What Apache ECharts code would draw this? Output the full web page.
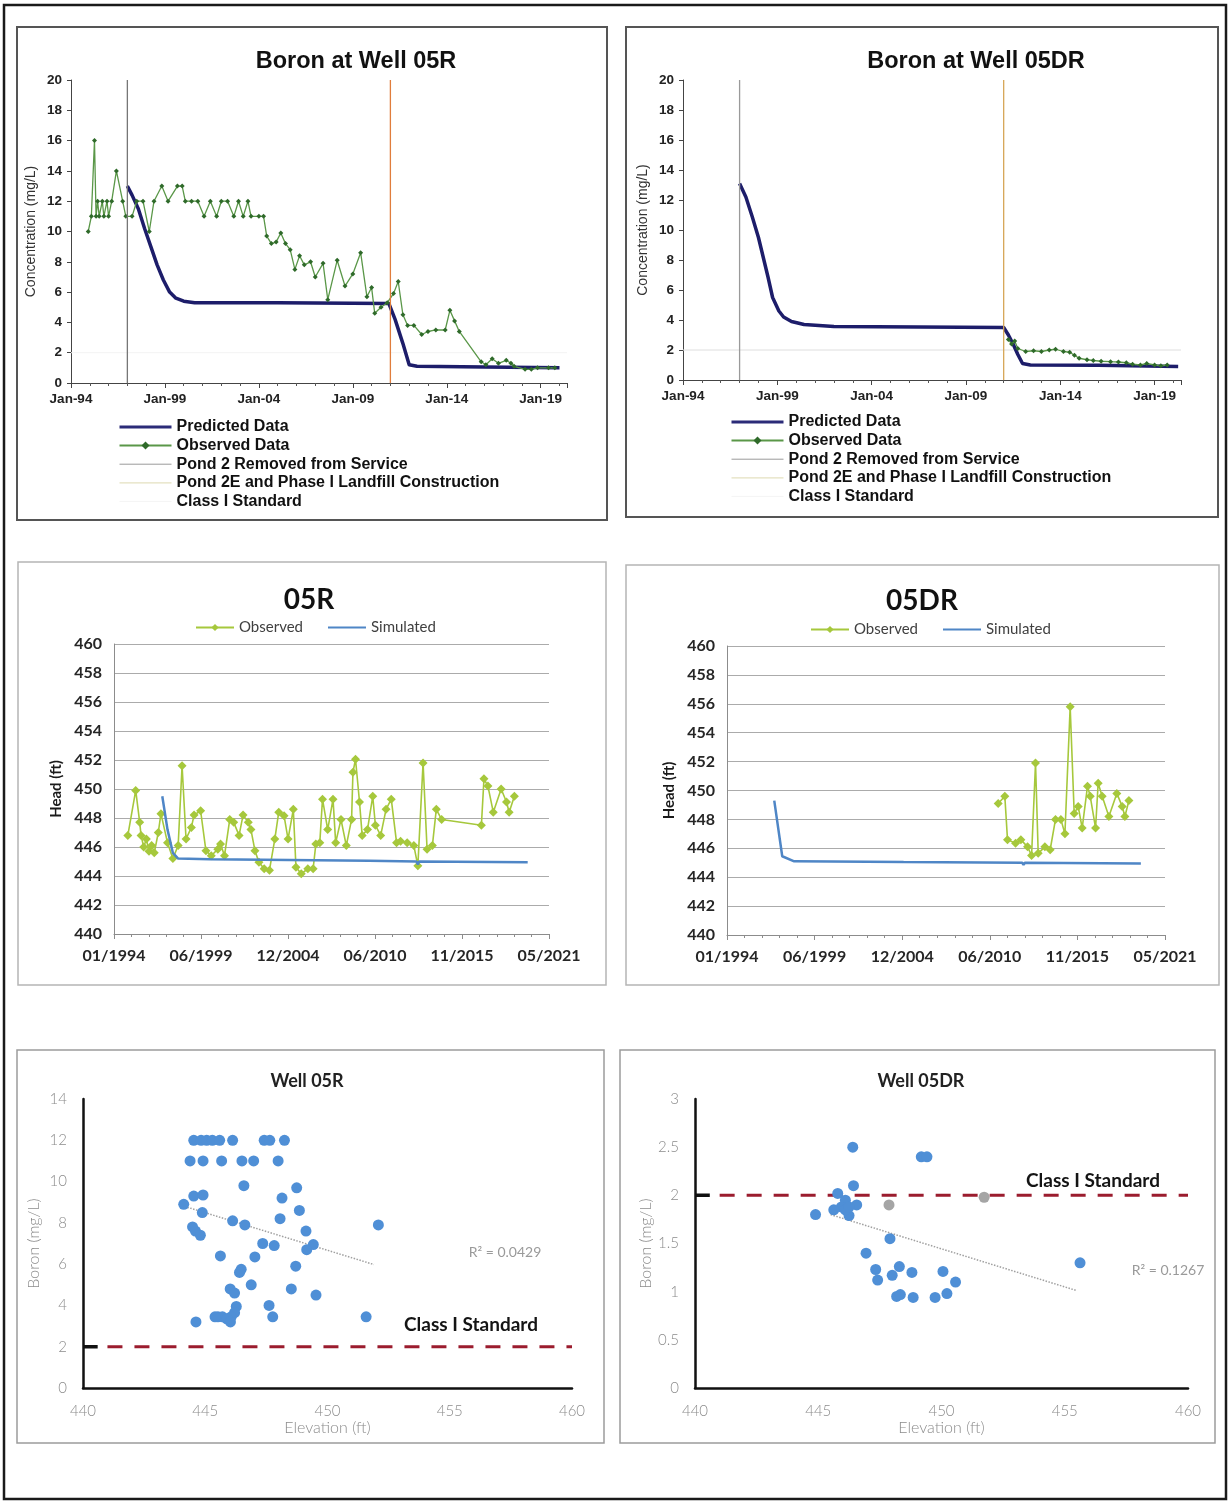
<!DOCTYPE html>
<html>
<head>
<meta charset="utf-8">
<script src="https://cdn.jsdelivr.net/npm/echarts@6/dist/echarts.min.js"></script>
<style>
  html, body { margin: 0; padding: 0; background: #fff; }
  #c { width: 1229px; height: 1503px; }
</style>
</head>
<body>
<div id="c"></div>
<script>
// ---------- Boron concentration over time (date, mg/L) ----------
const boron05R_predicted = [
  ['1997-01', 13.0], ['1997-04', 12.4], ['1997-08', 11.5], ['1997-12', 10.2], ['1998-04', 9.0],
  ['1998-08', 7.8], ['1998-12', 6.8], ['1999-04', 6.0], ['1999-08', 5.6], ['2000-01', 5.4],
  ['2000-08', 5.3], ['2005-01', 5.3], ['2010-12', 5.25], ['2011-01', 5.2], ['2011-04', 4.2],
  ['2011-09', 2.6], ['2012-01', 1.2], ['2012-06', 1.1], ['2016-01', 1.05], ['2020-01', 1.0]
];
const boron05R_observed = [
  ['1994-12', 10], ['1995-02', 11], ['1995-04', 16], ['1995-05', 11], ['1995-06', 12], ['1995-07', 11],
  ['1995-09', 12], ['1995-10', 11], ['1995-12', 12], ['1996-01', 11], ['1996-03', 12], ['1996-06', 14],
  ['1996-10', 12], ['1996-12', 11], ['1997-04', 11], ['1997-07', 12], ['1997-11', 12], ['1998-03', 10],
  ['1998-06', 12], ['1998-11', 13], ['1999-03', 12], ['1999-09', 13], ['1999-12', 13], ['2000-02', 12],
  ['2000-06', 12], ['2000-10', 12], ['2001-02', 11], ['2001-06', 12], ['2001-10', 11], ['2002-01', 12],
  ['2002-05', 12], ['2002-09', 11], ['2002-12', 12], ['2003-03', 11], ['2003-06', 12], ['2003-08', 11],
  ['2004-01', 11], ['2004-04', 11], ['2004-06', 9.7], ['2004-09', 9.2], ['2004-12', 9.3], ['2005-03', 9.9],
  ['2005-06', 9.2], ['2005-09', 8.8], ['2005-12', 7.5], ['2006-03', 8.4], ['2006-06', 7.8], ['2006-10', 8.0],
  ['2007-01', 7.0], ['2007-06', 7.9], ['2007-09', 5.5], ['2008-03', 8.1], ['2008-08', 6.4], ['2009-01', 7.2],
  ['2009-06', 8.6], ['2009-10', 5.7], ['2010-01', 6.3], ['2010-03', 4.6], ['2010-07', 5.0], ['2010-11', 5.3],
  ['2011-03', 5.9], ['2011-06', 6.7], ['2011-09', 4.5], ['2011-12', 3.8], ['2012-04', 3.8], ['2012-09', 3.2],
  ['2013-01', 3.4], ['2013-06', 3.5], ['2013-12', 3.5], ['2014-03', 4.8], ['2014-06', 4.1], ['2014-09', 3.4],
  ['2015-11', 1.4], ['2016-02', 1.2], ['2016-06', 1.6], ['2016-10', 1.3], ['2017-03', 1.5], ['2017-06', 1.3],
  ['2017-08', 1.1], ['2018-03', 0.9], ['2018-07', 0.9], ['2018-11', 1.0], ['2019-06', 1.0], ['2019-10', 1.0]
];
const boron05DR_predicted = [
  ['1997-01', 13.1], ['1997-05', 12.2], ['1997-09', 10.9], ['1998-01', 9.5], ['1998-04', 8.2],
  ['1998-07', 6.9], ['1998-10', 5.5], ['1999-02', 4.6], ['1999-05', 4.2], ['1999-10', 3.9],
  ['2000-06', 3.7], ['2002-01', 3.56], ['2011-01', 3.5], ['2011-04', 3.0], ['2011-07', 2.4],
  ['2011-10', 1.7], ['2012-01', 1.1], ['2012-06', 1.0], ['2016-01', 0.98], ['2020-04', 0.9]
];
const boron05DR_observed = [
  ['2011-04', 2.7], ['2011-06', 2.4], ['2011-08', 2.6], ['2011-10', 2.1], ['2012-03', 1.9], ['2012-08', 1.95],
  ['2013-01', 1.9], ['2013-06', 2.0], ['2013-10', 2.05], ['2014-03', 1.9], ['2014-07', 1.85], ['2014-10', 1.65],
  ['2015-01', 1.45], ['2015-06', 1.35], ['2015-10', 1.3], ['2016-03', 1.25], ['2016-09', 1.22], ['2017-02', 1.2],
  ['2017-07', 1.15], ['2017-11', 1.05], ['2018-04', 1.0], ['2018-08', 1.1], ['2019-01', 1.0], ['2019-05', 0.95],
  ['2019-09', 1.0]
];
// site events and the standard
const pond2RemovedDate = '1997-01';
const pond2EConstructionDate = '2011-01';
const classIStandard = 2;

// ---------- Groundwater head over time (date, ft) ----------
const head05R_observed = [
  ['1994-11', 446.8], ['1995-05', 449.9], ['1995-08', 447.7], ['1995-09', 446.8], ['1995-11', 446.0],
  ['1996-01', 446.55], ['1996-03', 445.7], ['1996-05', 446.1], ['1996-07', 445.6], ['1996-10', 447.0],
  ['1996-12', 448.3], ['1997-05', 446.3], ['1997-09', 445.2], ['1998-01', 446.1], ['1998-04', 451.6],
  ['1998-07', 446.55], ['1998-11', 447.35], ['1999-01', 448.2], ['1999-06', 448.5], ['1999-10', 445.75],
  ['2000-02', 445.4], ['2000-07', 445.85], ['2000-09', 446.2], ['2000-12', 445.4], ['2001-04', 447.9],
  ['2001-07', 447.7], ['2001-11', 446.8], ['2002-02', 448.2], ['2002-06', 447.7], ['2002-08', 447.2],
  ['2002-11', 445.75], ['2003-02', 444.95], ['2003-06', 444.5], ['2003-10', 444.4], ['2004-02', 446.55],
  ['2004-05', 448.4], ['2004-09', 448.15], ['2004-12', 446.55], ['2005-04', 448.6], ['2005-06', 444.6],
  ['2005-10', 444.15], ['2006-03', 444.5], ['2006-07', 444.5], ['2006-09', 446.2], ['2006-12', 446.3],
  ['2007-02', 449.3], ['2007-06', 447.2], ['2007-10', 449.3], ['2007-12', 446.3], ['2008-04', 447.9],
  ['2008-08', 446.1], ['2008-12', 447.9], ['2009-01', 451.15], ['2009-03', 452.05], ['2009-06', 449.1],
  ['2009-08', 446.8], ['2009-12', 447.2], ['2010-04', 449.5], ['2010-06', 447.5], ['2010-10', 446.8],
  ['2011-02', 448.6], ['2011-06', 449.3], ['2011-10', 446.3], ['2012-01', 446.4], ['2012-06', 446.3],
  ['2012-11', 446.1], ['2013-02', 444.7], ['2013-06', 451.8], ['2013-09', 445.85], ['2014-01', 446.1],
  ['2014-04', 448.6], ['2014-08', 447.9], ['2017-02', 447.5], ['2017-04', 450.7], ['2017-07', 450.2],
  ['2017-11', 448.4], ['2018-05', 450.0], ['2018-09', 449.1], ['2018-11', 448.4], ['2019-03', 449.5]
];
const head05R_simulated = [
  ['1997-01', 449.5], ['1997-05', 447.2], ['1997-09', 445.6], ['1998-01', 445.2], ['2000-01', 445.15],
  ['2005-01', 445.1], ['2010-01', 445.05], ['2013-01', 445.0], ['2013-02', 444.8], ['2013-03', 445.0],
  ['2020-01', 444.95]
];
const head05DR_observed = [
  ['2010-12', 449.1], ['2011-05', 449.6], ['2011-07', 446.6], ['2012-01', 446.35], ['2012-05', 446.6],
  ['2012-10', 446.1], ['2013-01', 445.5], ['2013-04', 451.9], ['2013-06', 445.65], ['2013-11', 446.1],
  ['2014-03', 445.9], ['2014-07', 448.0], ['2014-11', 448.0], ['2015-02', 447.0], ['2015-06', 455.8],
  ['2015-09', 448.4], ['2015-12', 448.9], ['2016-03', 447.4], ['2016-07', 450.3], ['2016-09', 449.6],
  ['2017-01', 447.4], ['2017-03', 450.5], ['2017-06', 449.6], ['2017-11', 448.2], ['2018-05', 449.8],
  ['2018-09', 448.9], ['2018-11', 448.2], ['2019-02', 449.3]
];
const head05DR_simulated = [
  ['1996-12', 449.3], ['1997-06', 445.45], ['1998-03', 445.1], ['2005-01', 445.05], ['2012-06', 445.0],
  ['2012-07', 444.85], ['2012-08', 445.0], ['2019-11', 444.95]
];

// ---------- Boron versus groundwater elevation (ft, mg/L) ----------
const scatter05R = [
  [444.53, 12], [444.83, 12], [445.06, 12], [445.29, 12], [445.59, 12], [446.12, 12], [447.41, 12], [447.64, 12], [448.24, 12],
  [444.38, 11], [444.91, 11], [445.67, 11], [446.5, 11], [446.98, 11], [447.98, 11],
  [446.58, 9.8], [448.74, 9.7], [448.14, 9.2], [444.12, 8.9], [444.53, 9.3], [444.91, 9.35], [444.88, 8.5],
  [448.85, 8.6], [448.06, 8.2], [446.12, 8.1], [446.62, 7.9], [452.08, 7.9], [444.48, 7.8], [444.6, 7.6],
  [444.8, 7.4], [449.12, 7.6], [447.35, 7.0], [447.82, 6.9], [449.42, 6.95], [449.15, 6.7], [445.62, 6.4],
  [447.03, 6.35], [448.7, 5.9], [446.47, 5.75], [446.4, 5.6], [446.88, 5.0], [448.52, 4.8], [446.02, 4.8],
  [446.2, 4.6], [449.53, 4.5], [447.61, 4.0], [446.27, 3.95], [446.2, 3.65], [445.52, 3.45], [445.7, 3.45],
  [446.06, 3.45], [445.88, 3.35], [447.76, 3.45], [451.58, 3.45], [444.62, 3.2], [446.03, 3.2], [445.4, 3.45]
];
const trend05R = [[444.15, 8.8], [451.9, 5.98]];
const r2_05R = 0.0429;

const scatter05DR = [
  [446.4, 2.5], [449.18, 2.4], [449.41, 2.4], [446.43, 2.1], [445.79, 2.02], [446.1, 1.95], [446.56, 1.9],
  [445.94, 1.88], [445.63, 1.85], [446.25, 1.79], [444.89, 1.8], [446.1, 1.85], [446.25, 1.88], [447.91, 1.55],
  [446.94, 1.4], [447.33, 1.23], [447.41, 1.12], [448.0, 1.17], [448.29, 1.26], [448.8, 1.2], [450.06, 1.21],
  [450.57, 1.1], [448.18, 0.95], [448.33, 0.97], [448.85, 0.94], [449.74, 0.94], [450.22, 0.98], [455.62, 1.3]
];
const scatter05DR_grey = [[447.87, 1.9], [451.73, 1.98]];
const trend05DR = [[445.5, 1.8], [455.5, 1.01]];
const r2_05DR = 0.1267;

// ---------- helpers ----------
const ARIAL = '"Liberation Sans", Arial, sans-serif';
const CAL = 'Lato, "Open Sans", sans-serif';
const toYears = d => { const [y, m] = d.split('-').map(Number); return (y - 1994) + (m - 1) / 12; };
const toDays = d => { const [y, m] = d.split('-').map(Number); return (Date.UTC(y, m - 1, 15) - Date.UTC(1994, 0, 1)) / 864e5; };
const yearPts = arr => arr.map(([d, v]) => [toYears(d), v]);
const dayPts = arr => arr.map(([d, v]) => [toDays(d), v]);
const janLabel = v => (Math.abs(v % 5) < 1e-6) ? 'Jan-' + String((1994 + v) % 100).padStart(2, '0') : '';
const mmyyyy = v => { const dt = new Date(Date.UTC(1994, 0, 1) + v * 864e5); return String(dt.getUTCMonth() + 1).padStart(2, '0') + '/' + dt.getUTCFullYear(); };
const YEAR_MAX = 26.4;

// axes for the concentration time-series panels
function concX(gi) {
  return {
    gridIndex: gi, type: 'value', min: 0, max: YEAR_MAX, interval: 5,
    axisLine: { show: true, lineStyle: { color: '#444', width: 1 } },
    axisTick: { show: true, length: 5, lineStyle: { color: '#444' } },
    minorTick: { show: true, splitNumber: 5, length: 3, lineStyle: { color: '#555' } },
    splitLine: { show: false },
    axisLabel: { formatter: janLabel, showMaxLabel: false, fontFamily: ARIAL, fontSize: 13.5, fontWeight: 'bold', color: '#222', margin: 9 }
  };
}
function concY(gi) {
  return {
    gridIndex: gi, type: 'value', min: 0, max: 20, interval: 2,
    axisLine: { show: true, lineStyle: { color: '#444', width: 1 } },
    axisTick: { show: true, length: 4, lineStyle: { color: '#444' } },
    splitLine: { show: false },
    axisLabel: { fontFamily: ARIAL, fontSize: 13.5, fontWeight: 'bold', color: '#222', margin: 9 },
    name: 'Concentration (mg/L)', nameLocation: 'middle', nameGap: 33,
    nameTextStyle: { fontFamily: ARIAL, fontSize: 14, color: '#333' }
  };
}
// axes for the head panels
function headX(gi) {
  return {
    gridIndex: gi, type: 'value', min: 0, max: 10000, interval: 2000,
    axisLine: { show: true, lineStyle: { color: '#8c8c8c', width: 1 } },
    axisTick: { show: true, length: 5, lineStyle: { color: '#8c8c8c' } },
    minorTick: { show: true, splitNumber: 5, length: 3, lineStyle: { color: '#8c8c8c' } },
    splitLine: { show: false },
    axisLabel: { formatter: mmyyyy, fontFamily: CAL, fontSize: 16, fontWeight: 'bold', color: '#262626', margin: 14 }
  };
}
function headY(gi) {
  return {
    gridIndex: gi, type: 'value', min: 440, max: 460, interval: 2,
    axisLine: { show: true, lineStyle: { color: '#8c8c8c', width: 1 } },
    axisTick: { show: false },
    splitLine: { show: true, lineStyle: { color: '#ababab', width: 1 } },
    axisLabel: { fontFamily: CAL, fontSize: 16, fontWeight: 'bold', color: '#262626', margin: 12 },
    name: 'Head (ft)', nameLocation: 'middle', nameGap: 50,
    nameTextStyle: { fontFamily: CAL, fontSize: 15, fontWeight: 'bold', color: '#1a1a1a' }
  };
}
// axes for the scatter panels
const lightLabel = { fontFamily: CAL, fontSize: 15, fontWeight: 300, color: '#8c8c8c' };
function elevX(gi) {
  return {
    gridIndex: gi, type: 'value', min: 440, max: 460, interval: 5,
    axisLine: { show: true, lineStyle: { color: '#111', width: 2.5 } },
    axisTick: { show: false }, splitLine: { show: false },
    axisLabel: Object.assign({ margin: 16 }, lightLabel),
    name: 'Elevation (ft)', nameLocation: 'middle', nameGap: 32,
    nameTextStyle: Object.assign({}, lightLabel, { fontSize: 16 })
  };
}
function boronY(gi, max, interval) {
  return {
    gridIndex: gi, type: 'value', min: 0, max: max, interval: interval,
    axisLine: { show: true, lineStyle: { color: '#111', width: 2.5 } },
    axisTick: { show: false }, splitLine: { show: false },
    axisLabel: Object.assign({ margin: 16 }, lightLabel),
    name: 'Boron (mg/L)', nameLocation: 'middle', nameGap: 41,
    nameTextStyle: Object.assign({}, lightLabel, { fontSize: 16 })
  };
}

// series builders
function concSeries(gi, predicted, observed, pond2Color, pond2EColor, stdColor) {
  const p2 = toYears(pond2RemovedDate), p2e = toYears(pond2EConstructionDate);
  return [
    { name: 'Predicted Data', type: 'line', xAxisIndex: gi, yAxisIndex: gi, data: yearPts(predicted),
      symbol: 'none', lineStyle: { color: '#1d1d6a', width: 3.5, join: 'round' }, itemStyle: { color: '#1d1d6a' }, z: 3 },
    { name: 'Observed Data', type: 'line', xAxisIndex: gi, yAxisIndex: gi, data: yearPts(observed),
      symbol: 'diamond', symbolSize: 5, lineStyle: { color: '#5a9748', width: 1.3 }, itemStyle: { color: '#2f6a2a' }, z: 4 },
    { name: 'Pond 2 Removed from Service', type: 'line', xAxisIndex: gi, yAxisIndex: gi, data: [[p2, 0], [p2, 20]],
      symbol: 'none', lineStyle: { color: pond2Color, width: 1.3 }, itemStyle: { color: pond2Color }, z: 5 },
    { name: 'Pond 2E and Phase I Landfill Construction', type: 'line', xAxisIndex: gi, yAxisIndex: gi, data: [[p2e, 0], [p2e, 20]],
      symbol: 'none', lineStyle: { color: pond2EColor, width: 1.3 }, itemStyle: { color: pond2EColor }, z: 5 },
    { name: 'Class I Standard', type: 'line', xAxisIndex: gi, yAxisIndex: gi, data: [[0, classIStandard], [YEAR_MAX, classIStandard]],
      symbol: 'none', lineStyle: { color: stdColor, width: 1 }, itemStyle: { color: stdColor }, z: 1 }
  ];
}
function headSeries(gi, observed, simulated) {
  return [
    { name: 'Observed', type: 'line', xAxisIndex: gi, yAxisIndex: gi, data: dayPts(observed),
      symbol: 'diamond', symbolSize: 9, lineStyle: { color: '#a6c83c', width: 1.6 }, itemStyle: { color: '#a6c83c' }, z: 3 },
    { name: 'Simulated', type: 'line', xAxisIndex: gi, yAxisIndex: gi, data: dayPts(simulated),
      symbol: 'none', lineStyle: { color: '#4f86c6', width: 2.5 }, itemStyle: { color: '#4f86c6' }, z: 4 }
  ];
}
function scatterSeries(gi, pts, trend, greyPts) {
  const list = [
    { name: 'Standard', type: 'line', xAxisIndex: gi, yAxisIndex: gi, data: [[441, classIStandard], [460, classIStandard]],
      symbol: 'none', lineStyle: { color: '#9b1c2e', width: 3, type: [15, 12] }, z: 2 },
    { name: 'Standard start', type: 'line', xAxisIndex: gi, yAxisIndex: gi, data: [[440, classIStandard], [440.6, classIStandard]],
      symbol: 'none', lineStyle: { color: '#111', width: 3.5 }, z: 2 },
    { name: 'Trend', type: 'line', xAxisIndex: gi, yAxisIndex: gi, data: trend,
      symbol: 'none', lineStyle: { color: '#a0a0a0', width: 1.5, type: 'dotted' }, z: 3 },
    { name: 'Boron', type: 'scatter', xAxisIndex: gi, yAxisIndex: gi, data: pts,
      symbolSize: 11, itemStyle: { color: '#4f8fd6', opacity: 1 }, z: 4 }
  ];
  if (greyPts) list.push({ name: 'Boron (other)', type: 'scatter', xAxisIndex: gi, yAxisIndex: gi, data: greyPts,
      symbolSize: 11, itemStyle: { color: '#8f8f8f' }, z: 4 });
  return list;
}

// free text and panel frames
function txt(x, y, text, size, weight, color, family) {
  return { type: 'text', x: x, y: y, silent: true, z: 100,
    style: { text: text, fontSize: size, fontWeight: weight, fontFamily: family, fill: color,
             align: 'center', verticalAlign: 'middle', textAlign: 'center', textVerticalAlign: 'middle' } };
}
function frame(x, y, w, h, color, lw) {
  return { type: 'rect', silent: true, z: 0, shape: { x: x, y: y, width: w, height: h },
    style: { fill: 'none', stroke: color, lineWidth: lw } };
}

// legend entries drawn as plain lines (no centre marker) unless the series carries a marker
const noMarker = { color: 'rgba(0,0,0,0)', borderWidth: 0, opacity: 0 };
const legendConcData = [
  { name: 'Predicted Data', itemStyle: noMarker, lineStyle: { color: '#2b2b78', width: 3 } },
  { name: 'Observed Data' },
  { name: 'Pond 2 Removed from Service', itemStyle: noMarker, lineStyle: { color: '#9a9a9a', width: 1 } },
  { name: 'Pond 2E and Phase I Landfill Construction', itemStyle: noMarker, lineStyle: { color: '#e4e1c0', width: 1.2 } },
  { name: 'Class I Standard', itemStyle: noMarker, lineStyle: { color: '#f4f4f4', width: 1 } }
];
function concLegend(left, top) {
  return { orient: 'vertical', left: left, top: top, padding: 0, itemWidth: 52, itemHeight: 10, itemGap: 2.6,
    selectedMode: false, data: legendConcData,
    textStyle: { fontFamily: ARIAL, fontSize: 16, fontWeight: 'bold', color: '#111' } };
}
function headLegend(left, top) {
  return { orient: 'horizontal', left: left, top: top, padding: 0, itemWidth: 38, itemHeight: 9, itemGap: 24,
    selectedMode: false,
    data: [{ name: 'Observed' }, { name: 'Simulated', itemStyle: noMarker }],
    textStyle: { fontFamily: CAL, fontSize: 15, color: '#404040' } };
}

const option = {
  animation: false,
  backgroundColor: '#fff',
  grid: [
    { left: 71, top: 80, width: 496, height: 303 },
    { left: 683, top: 80, width: 498, height: 300 },
    { left: 114, top: 644, width: 435, height: 290 },
    { left: 727, top: 646, width: 438, height: 289 },
    { left: 83, top: 1099, width: 489, height: 289 },
    { left: 695, top: 1099, width: 493, height: 289 }
  ],
  xAxis: [concX(0), concX(1), headX(2), headX(3), elevX(4), elevX(5)],
  yAxis: [concY(0), concY(1), headY(2), headY(3), boronY(4, 14, 2), boronY(5, 3, 0.5)],
  legend: [concLegend(118, 419), concLegend(730, 414), headLegend(195, 620), headLegend(810, 622)],
  series: [].concat(
    concSeries(0, boron05R_predicted, boron05R_observed, '#767676', '#e07d3c', '#f3f3f3'),
    concSeries(1, boron05DR_predicted, boron05DR_observed, '#9a9a9a', '#d6a656', '#dedede'),
    headSeries(2, head05R_observed, head05R_simulated),
    headSeries(3, head05DR_observed, head05DR_simulated),
    scatterSeries(4, scatter05R, trend05R, null),
    scatterSeries(5, scatter05DR, trend05DR, scatter05DR_grey)
  ),
  graphic: [
    frame(4, 5, 1222, 1494, '#1a1a1a', 2.5),
    frame(17, 27, 590, 493, '#555', 2),
    frame(626, 27, 592, 490, '#555', 2),
    frame(18, 562, 588, 423, '#b5b5b5', 1.5),
    frame(626, 565, 593, 420, '#b5b5b5', 1.5),
    frame(17, 1050, 587, 393, '#9c9c9c', 1.5),
    frame(620, 1050, 595, 393, '#9c9c9c', 1.5),
    txt(356, 62, 'Boron at Well 05R', 23.5, 'bold', '#111', ARIAL),
    txt(976, 62, 'Boron at Well 05DR', 23.5, 'bold', '#111', ARIAL),
    txt(309, 600, '05R', 28, 'bold', '#111', CAL),
    txt(922, 601, '05DR', 28, 'bold', '#111', CAL),
    txt(307, 1081, 'Well 05R', 18, 'bold', '#222', CAL),
    txt(921, 1081, 'Well 05DR', 18, 'bold', '#222', CAL),
    txt(471, 1325, 'Class I Standard', 19, 'bold', '#141414', CAL),
    txt(1093, 1181, 'Class I Standard', 19, 'bold', '#141414', CAL),
    txt(505, 1252, 'R² = ' + r2_05R, 14, 'normal', '#9a9a9a', CAL),
    txt(1168, 1270, 'R² = ' + r2_05DR, 14, 'normal', '#9a9a9a', CAL)
  ]
};

const chart = echarts.init(document.getElementById('c'), null, { renderer: 'canvas', width: 1229, height: 1503 });
chart.setOption(option);
</script>
</body>
</html>
